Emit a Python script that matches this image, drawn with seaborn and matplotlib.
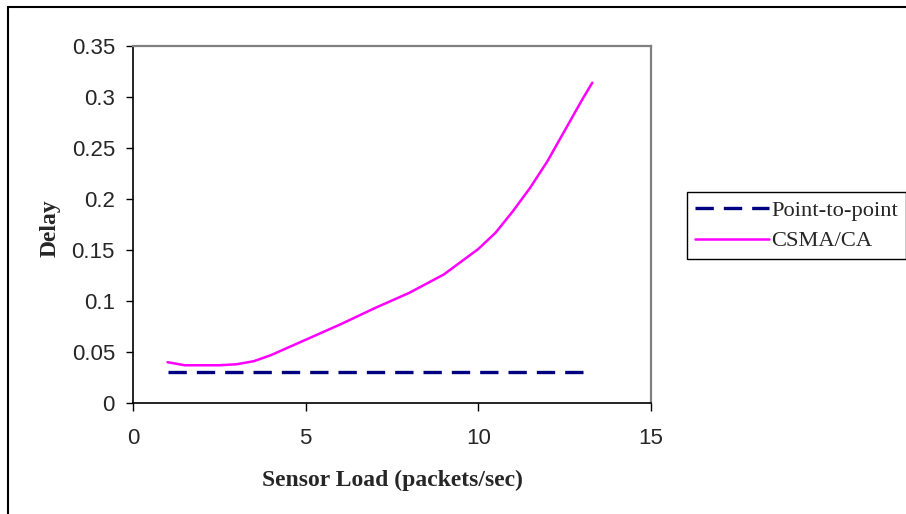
import matplotlib.pyplot as plt
import matplotlib as mpl
import seaborn as sns
import pandas as pd

# values
load = [1, 1.5, 2, 2.5, 3, 3.5, 4, 5, 6, 7, 8, 9, 10, 10.5, 11, 11.5, 12, 12.5, 13, 13.3]
csma_delay = [0.040, 0.037, 0.037, 0.037, 0.038, 0.041, 0.047, 0.062, 0.077,
              0.093, 0.108, 0.126, 0.151, 0.167, 0.188, 0.211, 0.237, 0.267,
              0.297, 0.314]
p2p_delay = [0.03] * len(load)

x_ticks = [0, 5, 10, 15]
y_ticks = [0, 0.05, 0.1, 0.15, 0.2, 0.25, 0.3, 0.35]
y_tick_labels = ["0", "0.05", "0.1", "0.15", "0.2", "0.25", "0.3", "0.35"]

df = pd.concat([
    pd.DataFrame({"load": load, "delay": p2p_delay, "series": "Point-to-point"}),
    pd.DataFrame({"load": load, "delay": csma_delay, "series": "CSMA/CA"}),
])

sns.set_style("white")
plt.rcParams["font.family"] = ["Liberation Sans", "DejaVu Sans"]

fig = plt.figure(figsize=(9.06, 5.14), dpi=100)
ax = fig.add_axes([133 / 906, 1 - 403 / 514, (651 - 133) / 906, (403 - 46) / 514])

sns.lineplot(
    data=df, x="load", y="delay", hue="series", style="series",
    palette={"Point-to-point": "#000080", "CSMA/CA": "#FF00FF"},
    dashes={"Point-to-point": (5.5, 3), "CSMA/CA": ""},
    size="series", sizes={"Point-to-point": 2.4, "CSMA/CA": 1.8},
    ax=ax, legend=False,
)

ax.set_xlim(0, 15)
ax.set_ylim(0, 0.35)
ax.set_xticks(x_ticks)
ax.set_xticklabels([str(t) for t in x_ticks])
ax.set_yticks(y_ticks)
ax.set_yticklabels(y_tick_labels)
ax.tick_params(axis="both", direction="out", labelsize=16, width=1, color="black",
               bottom=True, left=True)
ax.tick_params(axis="x", length=6, pad=12)
ax.tick_params(axis="y", length=5, pad=8)

for side in ["left", "bottom"]:
    ax.spines[side].set_color("black")
    ax.spines[side].set_linewidth(1.2)
for side in ["top", "right"]:
    ax.spines[side].set_color("#808080")
    ax.spines[side].set_linewidth(1.6)

ax.set_xlabel("Sensor Load (packets/sec)", family="Liberation Serif",
              fontweight="bold", fontsize=17)
ax.set_ylabel("Delay", family="Liberation Serif", fontweight="bold",
              fontsize=17)
ax.xaxis.set_label_coords(0.5, (403 - 470) / 357)
ax.yaxis.set_label_coords((61 - 133) / 518, 0.49)

# legend built by hand to match the boxed legend on the right
handles = [
    mpl.lines.Line2D([], [], color="#000080", lw=2.4, dashes=(5.5, 3)),
    mpl.lines.Line2D([], [], color="#FF00FF", lw=1.8),
]
leg = fig.legend(
    handles, ["Point-to-point", "CSMA/CA"],
    loc="upper left", bbox_to_anchor=(687 / 906, 1 - 192 / 514),
    prop={"family": "Liberation Serif", "size": 16.2},
    frameon=True, fancybox=False, framealpha=1, edgecolor="black",
    handlelength=3.3, handletextpad=0.1, borderpad=0.35, labelspacing=0.45,
    borderaxespad=0,
)
leg.get_frame().set_linewidth(1.0)

# outer chart border (runs off the right and bottom edges)
fig.patches.append(mpl.patches.Rectangle(
    (7.5 / 906, -0.05), 1.1, 1 - 7 / 514 + 0.05,
    transform=fig.transFigure, fill=False, edgecolor="black", lw=1.5,
))

fig.savefig("out.png", dpi=100)
